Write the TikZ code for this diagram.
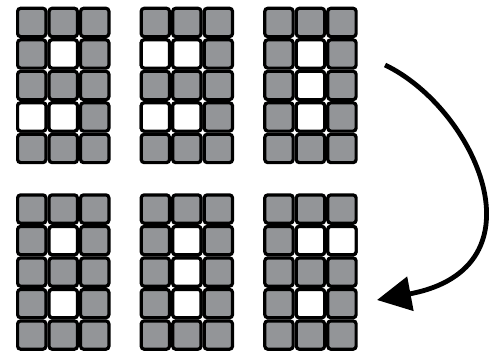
\documentclass[tikz,border=0pt]{standalone}
\usepackage{tikz}
\usetikzlibrary{arrows.meta}
\definecolor{cellgray}{RGB}{147,149,152}

\begin{document}
\begin{tikzpicture}[x=1pt,y=-1pt,cell/.style={draw=black,fill=cellgray,line width=3.2pt,rounded corners=3pt,minimum size=28.3pt,inner sep=0pt},
  hole/.style={cell,fill=white},turn/.style={line width=4.8pt,-{Triangle[length=34pt,width=34pt]}}]
\useasboundingbox (0,0) rectangle (494,351);
% grids of 3 x 5 cells, white cells listed as row/column
\foreach \g/\gx/\gy/\holes in {1/16/6.7/{2/2,4/1,4/2},2/139.6/6.7/{2/1,2/2,4/1,4/2},3/263.2/6.7/{2/2,3/2,4/2},
  4/16/193.3/{2/2,4/2},5/139.6/193.3/{2/2,3/2,4/2},6/263.2/193.3/{2/2,2/3,4/2}}{
  \foreach \r in {1,...,5} \foreach \c in {1,2,3} \node[cell] (a\g\r\c) at ({\gx+(\c-0.5)*31.5},{\gy+(\r-0.5)*31.5}) {};
  \foreach \r/\c in \holes \node[hole] (w\g\r\c) at ({\gx+(\c-0.5)*31.5},{\gy+(\r-0.5)*31.5}) {};
}
\coordinate (turnstart) at (385,65); \coordinate (turnend) at (377,300);
\draw[turn] (turnstart) .. controls (475,108) and (548,268) .. (turnend);
\end{tikzpicture}
\end{document}
